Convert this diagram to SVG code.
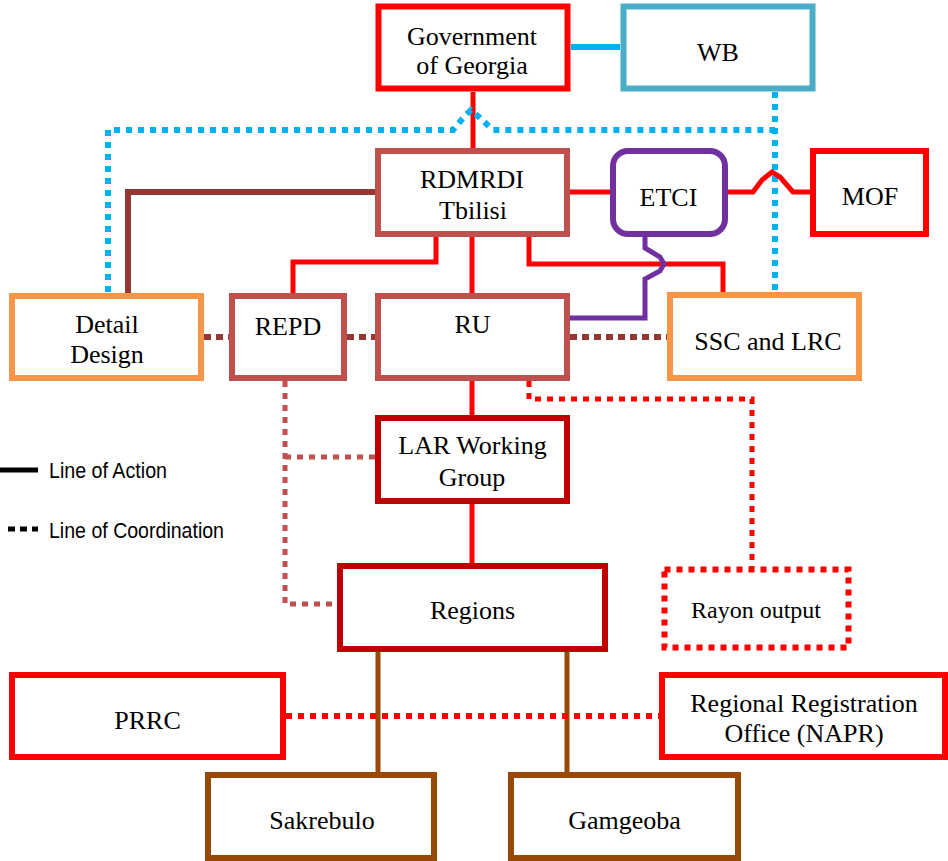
<svg xmlns="http://www.w3.org/2000/svg" width="948" height="861" viewBox="0 0 948 861">
<style>
.t{font-family:"Liberation Serif","Times New Roman",serif;font-size:26px;text-anchor:middle;fill:#000}
.lg{font-family:"Liberation Sans Narrow","Liberation Sans",Arial,sans-serif;font-size:22px;fill:#000}
.box{fill:#fff;stroke-width:6}
.red{stroke:#FF0000}
.rose{stroke:#C0504D}
.org{stroke:#F79646}
.dred{stroke:#C00000}
.brn{stroke:#984807}
.ln{fill:none;stroke-linejoin:miter}
.dot{stroke-dasharray:6 6}
</style>
<rect width="948" height="861" fill="#fff"/>
<g id="connectors" class="ln">
  <path d="M571,47 H620" stroke="#00B0F0" stroke-width="6"/>
  <path d="M473,92 V148" stroke="#FF0000" stroke-width="5"/>
  <path d="M108,292 V130 H453 L463,118 L471,110 L479,117 L493,130 H775" stroke="#00B0F0" stroke-width="6" class="dot"/>
  <path d="M775,92 V292" stroke="#00B0F0" stroke-width="6" class="dot"/>
  <path d="M375,192 H128 V293" stroke="#953735" stroke-width="6"/>
  <path d="M570,192 H610" stroke="#FF0000" stroke-width="5"/>
  <path d="M728,192 H753 L762,180 L772,172 L780,177 L793,192 H810" stroke="#FF0000" stroke-width="5"/>
  <path d="M436,237 V262 H293 V293" stroke="#FF0000" stroke-width="5"/>
  <path d="M472,237 V293" stroke="#FF0000" stroke-width="5"/>
  <path d="M529,237 V264 H723 V292" stroke="#FF0000" stroke-width="5"/>
  <path d="M645,237 V248 L660,257 L664,264 L660,271 L645,279 V318 H570" stroke="#7030A0" stroke-width="5"/>
  <path d="M204,337 H229 M347,337 H375 M570,337 H667" stroke="#953735" stroke-width="6" stroke-dasharray="7 5"/>
  <path d="M472,381 V415" stroke="#FF0000" stroke-width="5"/>
  <path d="M529,381 V399 H752 V567" stroke="#FF0000" stroke-width="5" class="dot"/>
  <path d="M285,381 V604 H337 M285,457 H375" stroke="#C0504D" stroke-width="5" class="dot"/>
  <path d="M472,504 V563" stroke="#FF0000" stroke-width="5"/>
  <path d="M378,652 V772 M567,652 V772" stroke="#984807" stroke-width="5"/>
  <path d="M286,716 H659" stroke="#FF0000" stroke-width="6" class="dot"/>
</g>
<g id="gog"><rect class="box red" x="378.5" y="6.5" width="189" height="82" stroke-width="7"/><text class="t" x="472" y="45">Government</text><text class="t" x="472" y="74">of Georgia</text></g>
<g id="wb"><rect class="box" x="623.5" y="6.5" width="189" height="82" stroke="#4BACC6" stroke-width="7"/><text class="t" x="718" y="61">WB</text></g>
<g id="rdmrdi"><rect class="box rose" x="378" y="151" width="189" height="83"/><text class="t" x="472" y="188">RDMRDI</text><text class="t" x="473" y="219">Tbilisi</text></g>
<g id="etci"><rect class="box" x="613" y="151" width="112" height="83" rx="15" stroke="#7030A0"/><text class="t" x="668.5" y="206">ETCI</text></g>
<g id="mof"><rect class="box red" x="813" y="151" width="113" height="83"/><text class="t" x="870" y="205">MOF</text></g>
<g id="detail"><rect class="box org" x="12" y="296" width="189" height="82"/><text class="t" x="107" y="333">Detail</text><text class="t" x="107" y="363">Design</text></g>
<g id="repd"><rect class="box rose" x="232" y="296" width="112" height="82"/><text class="t" x="288" y="335">REPD</text></g>
<g id="ru"><rect class="box rose" x="378" y="296" width="189" height="82"/><text class="t" x="472.5" y="333">RU</text></g>
<g id="ssc"><rect class="box org" x="670" y="295" width="189" height="83"/><text class="t" x="768" y="350">SSC and LRC</text></g>
<g id="lar"><rect class="box dred" x="378" y="418" width="189" height="83"/><text class="t" x="472.5" y="454">LAR Working</text><text class="t" x="472" y="486">Group</text></g>
<g id="regions"><rect class="box dred" x="340" y="566" width="265" height="83"/><text class="t" x="472.5" y="619">Regions</text></g>
<g id="rayon"><rect class="box" x="664.5" y="569.5" width="184" height="78" stroke="#FF0000" stroke-width="5" stroke-dasharray="6 6"/><text class="t" x="756" y="618" style="font-size:24px">Rayon output</text></g>
<g id="prrc"><rect class="box red" x="12" y="675" width="271" height="82"/><text class="t" x="147.5" y="729">PRRC</text></g>
<g id="napr"><rect class="box red" x="662" y="675" width="283" height="82"/><text class="t" x="804" y="712">Regional Registration</text><text class="t" x="804" y="742">Office (NAPR)</text></g>
<g id="sakrebulo"><rect class="box brn" x="208" y="775" width="226" height="83"/><text class="t" x="322" y="829">Sakrebulo</text></g>
<g id="gamgeoba"><rect class="box brn" x="511" y="775" width="227" height="83"/><text class="t" x="624.5" y="829">Gamgeoba</text></g>
<g id="legend">
  <path d="M0,470 H38" stroke="#000" stroke-width="5"/>
  <text class="lg" x="49" y="478" textLength="118" lengthAdjust="spacingAndGlyphs">Line of Action</text>
  <path d="M8,529 H38" stroke="#000" stroke-width="5" stroke-dasharray="7 5"/>
  <text class="lg" x="49" y="538" textLength="175" lengthAdjust="spacingAndGlyphs">Line of Coordination</text>
</g>
</svg>
